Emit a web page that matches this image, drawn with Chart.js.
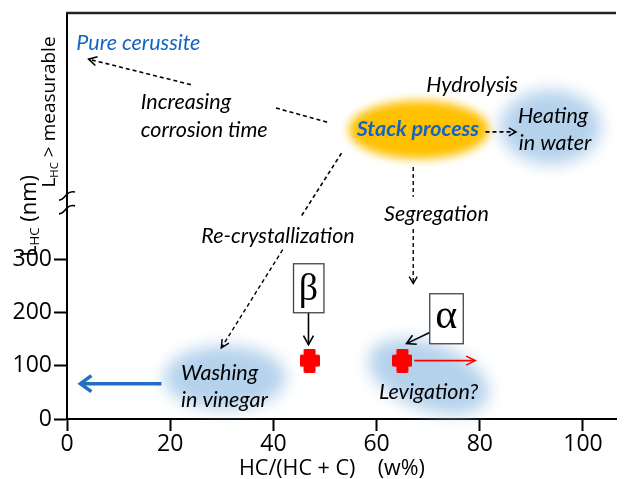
<!DOCTYPE html>
<html><head><meta charset="utf-8">
<script src="https://cdn.jsdelivr.net/npm/chart.js@4/dist/chart.umd.min.js"></script>
<style>html,body{margin:0;padding:0;background:#fff;overflow:hidden;width:627px;height:479px;}canvas{display:block;}</style>
</head><body>
<canvas id="c" width="627" height="479"></canvas>
<script>
// ---- data ----
const xTicks = [0, 20, 40, 60, 80, 100];
const yTicks = [0, 100, 200, 300];
const phaseNames = ['β', 'α'];
const phaseX = [47, 65];
const phaseY = [110, 110];

// annotation texts (data coordinates)
const noteTexts = ['Pure cerussite', 'Increasing', 'corrosion time', 'Hydrolysis', 'Stack process', 'Heating', 'in water', 'Segregation', 'Re-crystallization', 'Washing', 'in vinegar', 'Levigation?'];
const noteX = [1.8, 14.3, 14.3, 78.5, 68.0, 94.2, 94.6, 71.6, 40.9, 22.1, 22.1, 70.1];
const noteY = [709, 598, 545, 630, 547, 571, 520, 386, 345, 87, 36, 51];

// blobs
const blobX = [68.2, 93.7, 30.6, 70.1];
const blobY = [545, 550, 78, 80];
const blobRx = [13.6, 9.8, 11.8, 12.2];
const blobRy = [55, 70, 60, 62];

// phase label boxes
const boxX1 = [43.9, 70.3], boxX2 = [49.8, 76.8];
const boxY1 = [292.5, 236], boxY2 = [200.2, 141.8];
const labelX = [46.8, 73.5], labelY = [245, 189];

// ---- red cross marker ----
const crossImg = document.createElement('canvas');
crossImg.width = 20; crossImg.height = 24;
(function(){
  const g = crossImg.getContext('2d');
  g.fillStyle = '#ff0000';
  g.beginPath();
  g.moveTo(5,0); g.lineTo(15,0); g.lineTo(16,1); g.lineTo(16,6); g.lineTo(19,6); g.lineTo(20,7);
  g.lineTo(20,17); g.lineTo(19,18); g.lineTo(16,18); g.lineTo(16,23); g.lineTo(15,24); g.lineTo(5,24);
  g.lineTo(4,23); g.lineTo(4,18); g.lineTo(1,18); g.lineTo(0,17); g.lineTo(0,7); g.lineTo(1,6); g.lineTo(4,6); g.lineTo(4,1);
  g.closePath(); g.fill();
})();

const overlay = {
  id: 'overlay',
  beforeDatasetsDraw(chart) {
    const c = chart.ctx, sx = chart.scales.x, sy = chart.scales.y;
    const X = v => sx.getPixelForValue(v), Y = v => sy.getPixelForValue(v);
    const kx = X(1) - X(0), ky = Y(0) - Y(1);
    const colors = ['#ffc000', 'rgba(181,210,236,1)', 'rgba(181,210,236,1)', 'rgba(181,210,236,1)'];
    const rots = [0, 0, 0, 0.35];
    const blurs = [5, 8, 8, 8];
    for (let i = 0; i < blobX.length; i++) {
      c.save();
      c.filter = 'blur(' + blurs[i] + 'px)';
      c.fillStyle = colors[i];
      c.beginPath();
      c.ellipse(X(blobX[i]), Y(blobY[i]), blobRx[i] * kx, blobRy[i] * ky, rots[i], 0, Math.PI * 2);
      c.fill();
      c.restore();
    }
  },
  afterDraw(chart) {
    const c = chart.ctx, sx = chart.scales.x, sy = chart.scales.y, a = chart.chartArea;
    const X = v => sx.getPixelForValue(v), Y = v => sy.getPixelForValue(v);
    c.save();
    // top frame line
    c.strokeStyle = '#222'; c.lineWidth = 2.5;
    c.beginPath(); c.moveTo(a.left - 1, a.top); c.lineTo(a.right, a.top); c.stroke();
    // axis break marks
    c.lineWidth = 1.6; c.strokeStyle = '#000';
    [420, 394].forEach(v => {
      const py = Y(v), px = a.left;
      c.beginPath();
      c.moveTo(px - 8, py + 4);
      c.bezierCurveTo(px - 4, py + 4, px - 2, py, px, py - 2);
      c.bezierCurveTo(px + 2, py - 4, px + 4, py - 5, px + 8, py - 4);
      c.stroke();
    });

    function arrow(x1, y1, x2, y2, o) {
      const p1 = [X(x1), Y(y1)], p2 = [X(x2), Y(y2)];
      c.save();
      c.strokeStyle = o.color || '#000';
      c.lineWidth = o.width || 1.5;
      c.setLineDash(o.dash || []);
      c.beginPath(); c.moveTo(p1[0], p1[1]); c.lineTo(p2[0], p2[1]); c.stroke();
      if (o.head) {
        c.setLineDash([]);
        const ang = Math.atan2(p2[1] - p1[1], p2[0] - p1[0]);
        const L = o.hl || 7, W = o.hw || 4;
        c.beginPath();
        c.moveTo(p2[0] - L * Math.cos(ang) + W * Math.sin(ang), p2[1] - L * Math.sin(ang) - W * Math.cos(ang));
        c.lineTo(p2[0], p2[1]);
        c.lineTo(p2[0] - L * Math.cos(ang) - W * Math.sin(ang), p2[1] - L * Math.sin(ang) + W * Math.cos(ang));
        c.lineWidth = o.hwidth || (o.width || 1.5);
        c.stroke();
      }
      c.restore();
    }
    const dash = [4, 3];
    arrow(24.0, 630, 4.2, 678, { dash, head: true, width: 1.6, hl: 8, hw: 4.5 });
    arrow(40.5, 586, 50.9, 558, { dash, width: 1.6 });
    arrow(81.1, 541, 87.0, 541, { dash, head: true, width: 1.6, hl: 7, hw: 4 });
    arrow(53.2, 501, 45.2, 379, { dash, width: 1.6 });
    arrow(41.8, 319, 29.9, 134, { dash, head: true, width: 1.4, hl: 8, hw: 4 });
    arrow(67.1, 475, 67.1, 419, { dash, width: 1.4 });
    arrow(67.1, 358, 67.1, 255, { dash, head: true, width: 1.4, hl: 7, hw: 4 });
    arrow(46.8, 200, 46.8, 140, { head: true, width: 1.6, hl: 9, hw: 5 });
    arrow(70.5, 164, 65.8, 142, { head: true, width: 1.6, hl: 9, hw: 5 });
    arrow(67.3, 110, 79.1, 110, { head: true, width: 1.6, color: '#ff0000', hl: 9, hw: 4.5 });
    arrow(18.3, 66.5, 2.6, 66.5, { head: true, width: 3.5, color: '#1f6fc5', hl: 11, hw: 8, hwidth: 3.5 });

    // phase boxes
    c.strokeStyle = '#444'; c.lineWidth = 1.3;
    for (let i = 0; i < phaseNames.length; i++) {
      const x1 = X(boxX1[i]), x2 = X(boxX2[i]), y1 = Y(boxY1[i]), y2 = Y(boxY2[i]);
      c.fillStyle = '#fff';
      c.fillRect(x1, y1, x2 - x1, y2 - y1);
      c.strokeRect(x1, y1, x2 - x1, y2 - y1);
      c.fillStyle = '#000';
      c.textAlign = 'center'; c.textBaseline = 'middle';
      c.font = (i === 0 ? '38px' : '42px') + ' "Liberation Serif", serif';
      c.fillText(phaseNames[i], X(labelX[i]), Y(labelY[i]) + (i === 0 ? 1 : -2));
    }

    // notes
    const leftAligned = [0, 1, 2, 9, 10];
    for (let i = 0; i < noteTexts.length; i++) {
      c.textBaseline = 'middle';
      c.textAlign = leftAligned.includes(i) ? 'left' : 'center';
      if (i === 0) { c.fillStyle = '#1565c0'; c.font = 'italic 21.5px Lato'; }
      else if (i === 4) { c.fillStyle = '#1565c0'; c.font = 'italic bold 21.5px Lato'; }
      else { c.fillStyle = '#000'; c.font = 'italic 21.5px Lato'; }
      c.fillText(noteTexts[i], X(noteX[i]), Y(noteY[i]));
    }

    // axis titles
    c.fillStyle = '#000';
    c.font = '21.5px "Open Sans"'; c.textAlign = 'left'; c.textBaseline = 'middle';
    c.fillText('HC/(HC + C)    (w%)', 239, 469);

    function subTitle(cx, cy, parts, size) {
      c.save();
      c.translate(cx, cy); c.rotate(-Math.PI / 2);
      c.textBaseline = 'alphabetic'; c.textAlign = 'left';
      let total = 0;
      parts.forEach(p => { c.font = (p.sub ? size * 0.6 : size) + 'px "Open Sans"'; total += c.measureText(p.t).width; });
      let x = -total / 2;
      parts.forEach(p => {
        c.font = (p.sub ? size * 0.6 : size) + 'px "Open Sans"';
        c.fillText(p.t, x, size * 0.36 + (p.sub ? size * 0.15 : 0));
        x += c.measureText(p.t).width;
      });
      c.restore();
    }
    subTitle(28, 216, [{ t: 'L' }, { t: 'HC', sub: true }, { t: ' (nm)' }], 22);
    subTitle(48, 112, [{ t: 'L' }, { t: 'HC', sub: true }, { t: ' > measurable' }], 19);
    c.restore();
  }
};

new Chart(document.getElementById('c'), {
  type: 'scatter',
  data: {
    datasets: [{
      data: phaseX.map((x, i) => ({ x: x, y: phaseY[i] })),
      pointStyle: crossImg,
      pointRadius: 10
    }]
  },
  options: {
    responsive: false,
    animation: false,
    layout: { padding: { top: 13, right: -5, left: 0, bottom: 0 } },
    plugins: { legend: { display: false }, tooltip: { enabled: false } },
    scales: {
      x: {
        type: 'linear', min: 0, max: 106.4,
        afterBuildTicks: s => { s.ticks = xTicks.map(v => ({ value: v })); },
        afterFit: s => { s.height = 60; s.paddingLeft = 0; s.paddingRight = 0; },
        grid: { drawOnChartArea: false, drawTicks: true, tickLength: 12, tickWidth: 2, tickColor: '#000' },
        border: { color: '#000', width: 2 },
        ticks: { font: { family: 'Open Sans', size: 23 }, color: '#000', padding: 0, maxRotation: 0, autoSkip: false }
      },
      y: {
        type: 'linear', min: 0, max: 765,
        afterBuildTicks: s => { s.ticks = yTicks.map(v => ({ value: v })); },
        afterFit: s => { s.width = 67; s.paddingTop = 0; s.paddingBottom = 0; },
        grid: { drawOnChartArea: false, drawTicks: true, tickLength: 13, tickWidth: 2, tickColor: '#000' },
        border: { color: '#000', width: 2 },
        ticks: { font: { family: 'Open Sans', size: 23 }, color: '#000', padding: 2, autoSkip: false }
      }
    }
  },
  plugins: [overlay]
});
</script>
</body></html>
